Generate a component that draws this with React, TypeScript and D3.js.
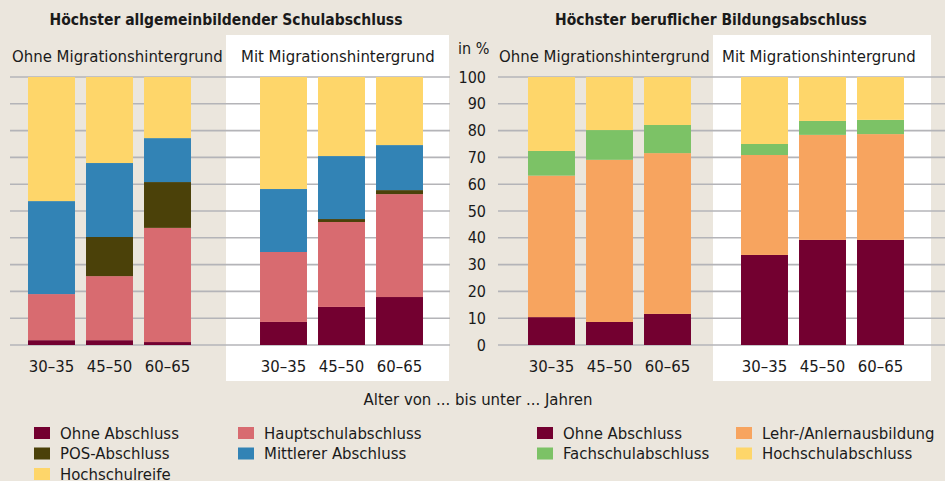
import React, { useRef, useEffect } from 'react';
import * as d3 from 'd3';

// Altersgruppen
const ages = ['30–35', '45–50', '60–65'];

// Höchster allgemeinbildender Schulabschluss (in %)
const schulKeys = ['ohne', 'haupt', 'pos', 'mittl', 'reife'];
const schulLabels = ['Ohne Abschluss', 'Hauptschulabschluss', 'POS-Abschluss', 'Mittlerer Abschluss', 'Hochschulreife'];
const schulColors = ['#730030', '#d86b70', '#4b4109', '#3283b5', '#fed66a'];
const schulOhne_ohne = [1.8, 1.8, 1.1];
const schulOhne_haupt = [17.2, 23.9, 42.6];
const schulOhne_pos = [0, 14.6, 17.1];
const schulOhne_mittl = [34.7, 27.6, 16.4];
const schulOhne_reife = [46.3, 32.1, 22.8];
const schulMit_ohne = [8.6, 14.2, 17.9];
const schulMit_haupt = [26.1, 31.7, 38.4];
const schulMit_pos = [0, 1.1, 1.5];
const schulMit_mittl = [23.5, 23.5, 16.8];
const schulMit_reife = [41.8, 29.5, 25.4];

// Höchster beruflicher Bildungsabschluss (in %)
const berufKeys = ['ohne', 'lehr', 'fach', 'hoch'];
const berufLabels = ['Ohne Abschluss', 'Lehr-/Anlernausbildung', 'Fachschulabschluss', 'Hochschulabschluss'];
const berufColors = ['#730030', '#f7a45f', '#7cc266', '#fed66a'];
const berufOhne_ohne = [10.4, 8.6, 11.6];
const berufOhne_lehr = [52.8, 60.5, 60.0];
const berufOhne_fach = [9.2, 11.1, 10.5];
const berufOhne_hoch = [27.6, 19.8, 17.9];
const berufMit_ohne = [33.6, 39.2, 39.2];
const berufMit_lehr = [37.3, 39.2, 39.5];
const berufMit_fach = [4.1, 5.2, 5.3];
const berufMit_hoch = [25.0, 16.4, 16.0];

const yTicks = [0, 10, 20, 30, 40, 50, 60, 70, 80, 90, 100];

const FONT = "'DejaVu Sans Condensed', 'Liberation Sans Narrow', sans-serif";
const FS = 16.6;

const rows = (keys: string[], cols: number[][]) =>
  ages.map((a, i) => {
    const r: any = { age: a };
    keys.forEach((k, j) => (r[k] = cols[j][i]));
    return r;
  });

const App = () => {
  const ref = useRef<SVGSVGElement>(null);

  useEffect(() => {
    const svg = d3.select(ref.current);
    svg.selectAll('*').remove();

    const width = 945;
    const height = 481;
    const y = d3.scaleLinear().domain([0, 100]).range([345, 77]);

    svg.append('rect').attr('width', width).attr('height', height).attr('fill', '#ebe6dd');

    // weiße Hintergründe "Mit Migrationshintergrund"
    svg.append('rect').attr('x', 226).attr('y', 35).attr('width', 223).attr('height', 346).attr('fill', '#fff');
    svg.append('rect').attr('x', 713).attr('y', 35).attr('width', 218).attr('height', 346).attr('fill', '#fff');

    // Gitterlinien
    const grid = svg.append('g');
    [[10, 450], [498, 945]].forEach(([x1, x2]) => {
      grid
        .selectAll(null)
        .data(yTicks)
        .enter()
        .append('line')
        .attr('x1', x1)
        .attr('x2', x2)
        .attr('y1', (d) => y(d))
        .attr('y2', (d) => y(d))
        .attr('stroke', '#b4b4b8')
        .attr('stroke-width', 1.6);
    });

    // y-Achse
    svg
      .append('g')
      .selectAll('text')
      .data(yTicks)
      .enter()
      .append('text')
      .attr('x', 486)
      .attr('y', (d) => y(d) + 5.5)
      .attr('text-anchor', 'end')
      .attr('font-family', FONT)
      .attr('font-size', 16)
      .attr('fill', '#1a1a1a')
      .text((d) => d);
    svg.append('text').attr('x', 458).attr('y', 54).attr('font-family', FONT).attr('font-size', 16).attr('fill', '#1a1a1a').text('in %');

    const panels = [
      { range: [22.5, 196.5], keys: schulKeys, colors: schulColors, data: rows(schulKeys, [schulOhne_ohne, schulOhne_haupt, schulOhne_pos, schulOhne_mittl, schulOhne_reife]), title: 'Ohne Migrationshintergrund', tx: 12 },
      { range: [254.5, 428.5], keys: schulKeys, colors: schulColors, data: rows(schulKeys, [schulMit_ohne, schulMit_haupt, schulMit_pos, schulMit_mittl, schulMit_reife]), title: 'Mit Migrationshintergrund', tx: 241 },
      { range: [522.5, 696.5], keys: berufKeys, colors: berufColors, data: rows(berufKeys, [berufOhne_ohne, berufOhne_lehr, berufOhne_fach, berufOhne_hoch]), title: 'Ohne Migrationshintergrund', tx: 499 },
      { range: [735.5, 909.5], keys: berufKeys, colors: berufColors, data: rows(berufKeys, [berufMit_ohne, berufMit_lehr, berufMit_fach, berufMit_hoch]), title: 'Mit Migrationshintergrund', tx: 722 },
    ];

    panels.forEach((p) => {
      const x = d3.scaleBand().domain(ages).range(p.range as [number, number]).paddingInner(0.19).paddingOuter(0.095);
      const color = d3.scaleOrdinal<string>().domain(p.keys).range(p.colors);
      const series = d3.stack().keys(p.keys)(p.data);
      const g = svg.append('g');
      g.selectAll('g')
        .data(series)
        .enter()
        .append('g')
        .attr('fill', (s) => color(s.key))
        .selectAll('rect')
        .data((s) => s)
        .enter()
        .append('rect')
        .attr('x', (d: any) => x(d.data.age)!)
        .attr('width', x.bandwidth())
        .attr('y', (d) => y(d[1]))
        .attr('height', (d) => y(d[0]) - y(d[1]));

      g.selectAll('text.age')
        .data(ages)
        .enter()
        .append('text')
        .attr('class', 'age')
        .attr('x', (d) => x(d)! + x.bandwidth() / 2)
        .attr('y', 372)
        .attr('text-anchor', 'middle')
        .attr('font-family', FONT)
        .attr('font-size', FS)
        .attr('fill', '#1a1a1a')
        .text((d) => d);

      g.append('text')
        .attr('x', p.tx)
        .attr('y', 62)
        .attr('font-family', FONT)
        .attr('font-size', FS)
        .attr('fill', '#1a1a1a')
        .text(p.title);
    });

    // Überschriften
    const titles = [
      ['Höchster allgemeinbildender Schulabschluss', 226],
      ['Höchster beruflicher Bildungsabschluss', 711],
    ];
    titles.forEach(([t, cx]) => {
      svg.append('text').attr('x', cx).attr('y', 25).attr('text-anchor', 'middle').attr('font-family', FONT).attr('font-weight', 'bold').attr('font-size', 15.5).attr('fill', '#1a1a1a').text(t as string);
    });

    svg.append('text').attr('x', 478).attr('y', 405).attr('text-anchor', 'middle').attr('font-family', FONT).attr('font-size', FS).attr('fill', '#1a1a1a').text('Alter von ... bis unter ... Jahren');

    // Legenden
    const legendItems = [
      { label: schulLabels[0], color: schulColors[0], x: 34, row: 0 },
      { label: schulLabels[2], color: schulColors[2], x: 34, row: 1 },
      { label: schulLabels[4], color: schulColors[4], x: 34, row: 2 },
      { label: schulLabels[1], color: schulColors[1], x: 238, row: 0 },
      { label: schulLabels[3], color: schulColors[3], x: 238, row: 1 },
      { label: berufLabels[0], color: berufColors[0], x: 537, row: 0 },
      { label: berufLabels[2], color: berufColors[2], x: 537, row: 1 },
      { label: berufLabels[1], color: berufColors[1], x: 736, row: 0 },
      { label: berufLabels[3], color: berufColors[3], x: 736, row: 1 },
    ];
    const lg = svg.append('g').selectAll('g').data(legendItems).enter().append('g')
      .attr('transform', (d) => `translate(${d.x},${427 + d.row * 20.5})`);
    lg.append('rect').attr('width', 16).attr('height', 12).attr('fill', (d) => d.color);
    lg.append('text').attr('x', 26).attr('y', 11.5).attr('font-family', FONT).attr('font-size', FS).attr('fill', '#1a1a1a').text((d) => d.label);
  }, []);

  return (
    <div style={{ position: 'absolute', left: 0, top: 0 }}>
      <svg ref={ref} width={945} height={481} style={{ display: 'block' }} />
    </div>
  );
};

export default App;
